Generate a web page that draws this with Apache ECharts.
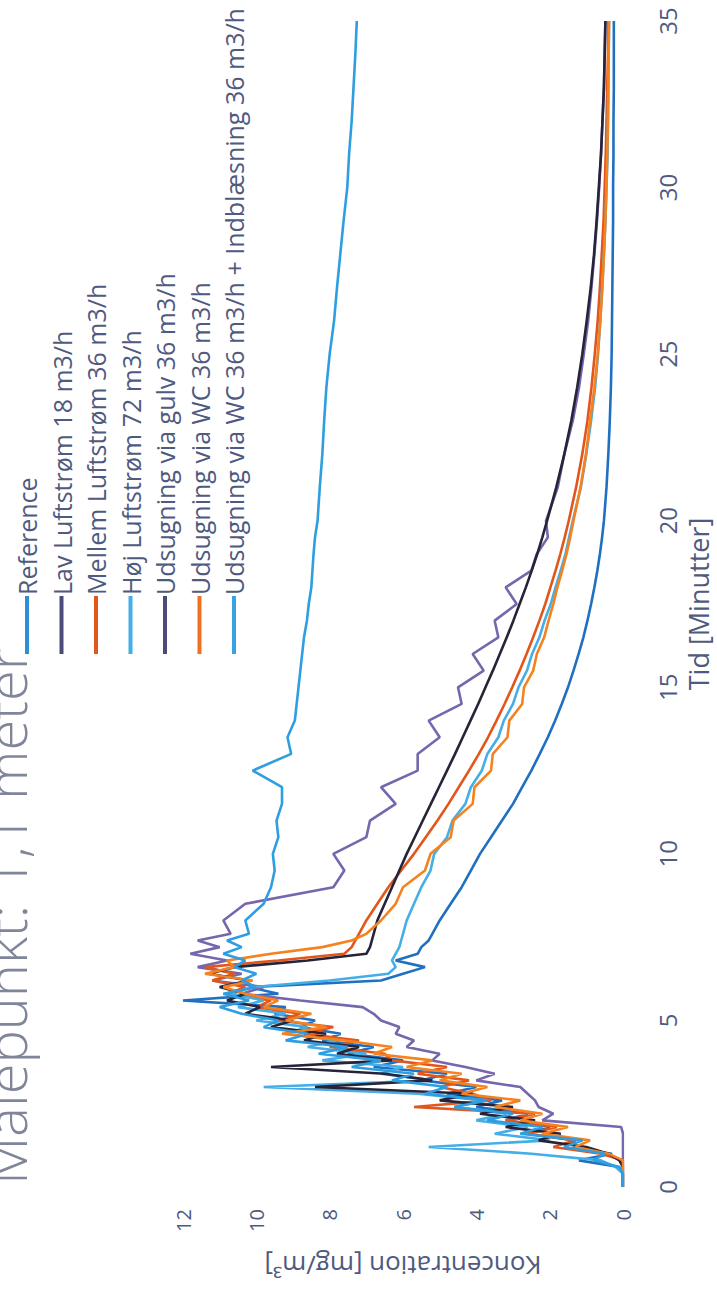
<!DOCTYPE html>
<html><head><meta charset="utf-8">
<script src="https://cdn.jsdelivr.net/npm/echarts@6/dist/echarts.min.js"></script>
<style>
html,body{margin:0;padding:0;background:#fff;overflow:hidden;width:717px;height:1289px;}
#chart{position:absolute;left:0;top:0;width:1289px;height:717px;transform-origin:0 0;transform:translate(0px,1289px) rotate(-90deg);}
</style></head><body><div id="chart"></div>
<script>
const titleText = 'Målepunkt: 1,1 meter';
const xName = 'Tid [Minutter]';
const yName = 'Koncentration [mg/m³]';
const seriesNames = ['Reference','Lav Luftstrøm 18 m3/h','Mellem Luftstrøm 36 m3/h','Høj Luftstrøm 72 m3/h','Udsugning via gulv 36 m3/h','Udsugning via WC 36 m3/h','Udsugning via WC 36 m3/h + Indblæsning 36 m3/h'];
const T = [0,0.2,0.4,0.6,0.8,1,1.2,1.4,1.6,1.8,2,2.2,2.4,2.6,2.8,3,3.2,3.4,3.6,3.8,4,4.2,4.4,4.6,4.8,5,5.2,5.4,5.6,5.8,6,6.2,6.4,6.6,6.8,7,7.2,7.4,7.6,
 8,8.5,9,9.5,10,10.5,11,11.5,12,12.5,13,13.5,14,14.5,15,15.5,16,16.5,17,17.5,18,18.5,19,19.5,20,
 21,22,23,24,25,26,27,28,29,30,31,32,33,34,35];
const reference = [0,0,0,0.1,1.2,0.3,1.6,1.3,2.6,2.0,3.2,2.6,4.0,3.3,4.8,4.0,5.5,4.8,6.8,6.0,7.5,6.8,8.2,7.7,8.8,8.4,9.5,9.2,12.0,9.4,10.2,6.6,6.0,5.4,6.2,5.6,5.5,5.3,5.2,
 5.0,4.7,4.4,4.15,3.9,3.6,3.3,3.0,2.75,2.5,2.27,2.05,1.85,1.67,1.5,1.35,1.21,1.08,0.97,0.87,0.78,0.7,0.63,0.57,0.52,
 0.45,0.4,0.36,0.33,0.31,0.3,0.29,0.28,0.27,0.27,0.26,0.26,0.25,0.25,0.25];
const lav = [0,0,0,0,0,0,0,0,0,0.05,2.2,1.9,2.3,2.4,2.6,2.8,4.0,3.5,4.3,5.2,5.0,5.9,5.7,6.2,6.1,6.6,6.8,7.1,8.8,10.4,9.8,11.2,10.4,11.6,10.8,11.8,11.0,11.6,10.7,
 10.9,10.3,7.9,7.6,7.9,7.0,6.9,6.2,6.6,5.6,5.6,5.0,5.3,4.4,4.5,3.8,4.1,3.4,3.5,2.9,3.2,2.5,2.35,2.05,2.1,
 1.78,1.6,1.37,1.2,1.07,0.95,0.86,0.78,0.71,0.65,0.6,0.56,0.52,0.5,0.48];
const mellem = [0,0,0,0,0,0.6,1.9,1.3,2.6,1.8,3.2,2.4,5.7,3.6,4.1,5.0,4.2,5.6,4.8,6.3,6.5,8.0,7.2,8.7,7.9,9.4,8.8,10.0,9.6,10.8,10.3,11.2,10.6,11.4,9.4,7.6,7.4,7.3,7.2,
 7.0,6.7,6.4,6.05,5.7,5.38,5.06,4.76,4.48,4.2,3.93,3.68,3.45,3.23,3.02,2.82,2.63,2.45,2.28,2.12,1.98,1.84,1.71,1.59,1.48,
 1.28,1.11,0.97,0.86,0.77,0.69,0.63,0.58,0.53,0.5,0.47,0.45,0.43,0.41,0.4];
const hoj = [0,0,0,0.2,0.6,2.5,5.3,2.0,3.5,2.6,4.0,3.2,4.6,3.8,5.6,9.8,5.2,6.6,6.0,8.2,7.0,8.6,7.8,9.2,8.6,10.0,9.2,10.5,9.8,10.7,10.1,8.0,6.4,6.2,6.3,6.2,6.1,6.05,6.0,
 5.9,5.7,5.5,5.25,5.15,4.8,4.65,4.3,4.15,3.85,3.7,3.4,3.25,3.0,2.85,2.62,2.48,2.28,2.14,1.97,1.84,1.7,1.57,1.47,1.37,
 1.15,1.0,0.87,0.76,0.68,0.62,0.57,0.52,0.48,0.45,0.42,0.41,0.4,0.39,0.38];
const gulv = [0,0,0,0,0.1,0.4,1.0,2.3,1.7,3.2,2.4,3.9,3.0,5.0,4.1,8.4,5.2,6.5,9.6,6.3,7.8,7.2,8.7,8.1,9.6,9.0,10.3,9.9,10.8,10.3,11.0,10.2,11.3,10.6,8.6,7.0,6.9,6.85,6.8,
 6.7,6.5,6.3,6.1,5.9,5.68,5.46,5.24,5.02,4.8,4.58,4.37,4.16,3.95,3.75,3.55,3.36,3.17,2.99,2.82,2.65,2.49,2.34,2.2,2.07,
 1.82,1.6,1.41,1.25,1.11,0.99,0.88,0.79,0.72,0.66,0.6,0.56,0.52,0.5,0.48];
const wc = [0,0,0,0,0,0.4,1.3,0.9,2.2,1.5,2.8,2.2,3.5,2.8,4.4,3.7,5.0,4.4,5.9,5.2,6.8,6.3,7.6,9.3,8.1,9.2,8.5,9.8,9.4,10.3,10.9,10.1,11.4,10.6,10.8,9.6,8.2,7.4,7.0,
 6.6,6.2,6.0,5.4,5.25,4.7,4.62,4.1,4.05,3.6,3.55,3.15,3.1,2.75,2.7,2.45,2.35,2.15,2.03,1.9,1.79,1.66,1.54,1.44,1.35,
 1.16,1.01,0.9,0.78,0.69,0.62,0.56,0.52,0.48,0.45,0.43,0.41,0.4,0.39,0.38];
const wcInd = [0,0,0,0.1,0.8,0.5,1.6,1.1,2.8,2.2,3.7,3.0,4.6,3.7,5.4,4.8,6.3,5.7,7.4,6.6,8.3,7.5,9.2,8.6,9.8,9.4,10.4,11.0,10.2,10.9,10.0,10.4,10.0,10.6,10.3,10.9,10.4,10.8,10.2,
 10.3,9.8,9.6,9.5,9.55,9.4,9.45,9.3,9.3,10.1,9.05,9.15,8.95,8.9,8.85,8.8,8.75,8.7,8.62,8.57,8.5,8.47,8.44,8.4,8.33,
 8.27,8.2,8.15,8.09,8.0,7.88,7.8,7.71,7.62,7.52,7.47,7.4,7.35,7.3,7.26];
const yTicks = [0,2,4,6,8,10,12];
const xTicks = [0,5,10,15,20,25,30,35];

const allValues = [reference,lav,mellem,hoj,gulv,wc,wcInd];
const lineColors = ['#1f70c1','#7566ad','#e2561c','#45aee6','#272338','#f5821f','#2e9ee0'];
const legendColors = ['#2d8fd5','#4b4a78','#e2561c','#45aee6','#4b4a78','#f07020','#3aa2e0'];
const txt = '#4f5a80';

const chart = echarts.init(document.getElementById('chart'), null, {renderer:'svg', width:1289, height:717});
chart.setOption({
  animation:false,
  backgroundColor:'#ffffff',
  graphic:[{type:'text', left:104, top:-23, z:0, style:{text:titleText, fontSize:56, fontWeight:300, fontFamily:'Open Sans', fill:'#80869a'}}],
  legend:{
    orient:'vertical', left:630, top:9, itemWidth:58, itemHeight:4, itemGap:8.5,
    icon:'rect',
    textStyle:{fontFamily:'Open Sans', fontSize:25, color:txt, lineHeight:26, padding:[0,0,0,-4]},
    data: seriesNames.map((n,i)=>({name:n, itemStyle:{color:legendColors[i]}}))
  },
  grid:{left:102, right:21, top:183, bottom:89, containLabel:false},
  xAxis:{type:'value', min:xTicks[0], max:xTicks[xTicks.length-1], interval:5,
    name:xName, nameLocation:'middle', nameGap:62,
    nameTextStyle:{fontFamily:'Open Sans', fontSize:27, color:txt},
    axisLine:{show:false}, axisTick:{show:false}, splitLine:{show:false},
    axisLabel:{fontFamily:'Open Sans', fontSize:24, color:txt, margin:32}},
  yAxis:{type:'value', min:yTicks[0], max:yTicks[yTicks.length-1], interval:2,
    name:yName, nameLocation:'middle', nameGap:66, nameRotate:90,
    nameTextStyle:{fontFamily:'Open Sans', fontSize:26, color:txt},
    axisLine:{show:false}, axisTick:{show:false}, splitLine:{show:false},
    axisLabel:{fontFamily:'Open Sans', fontSize:20, color:txt, margin:22}},
  series: allValues.map((vals,i)=>({
    name:seriesNames[i], type:'line', showSymbol:false, symbol:'none',
    data:T.map((t,k)=>[t, vals[k]]),
    lineStyle:{color:lineColors[i], width:2.6},
    itemStyle:{color:lineColors[i]},
    z:2+i
  }))
});
</script></body></html>
